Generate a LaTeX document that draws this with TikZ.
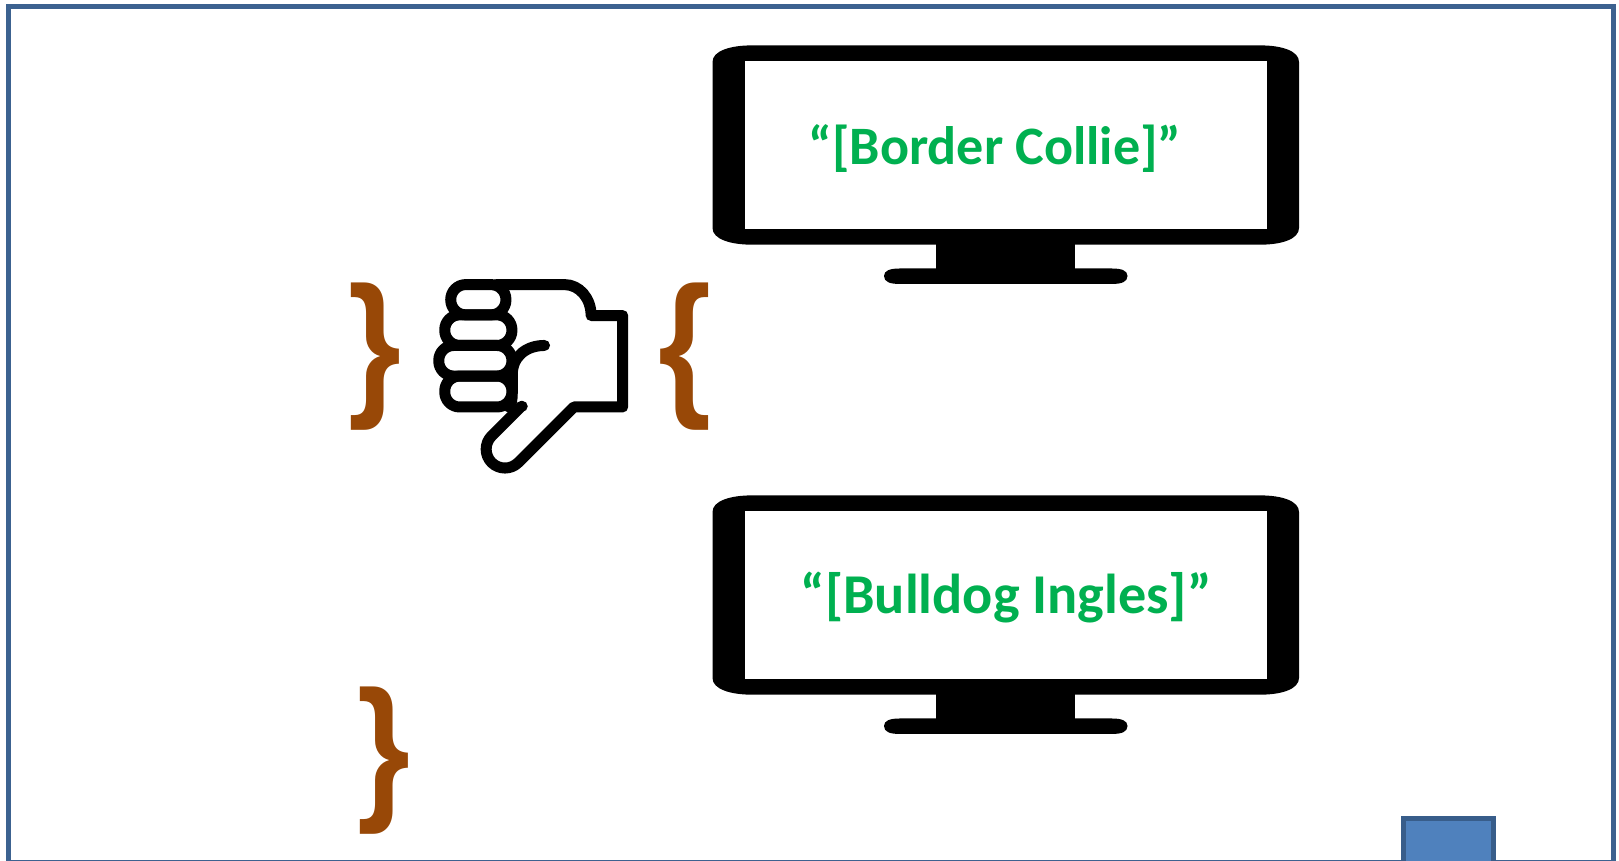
\documentclass[tikz,border=0pt]{standalone}
\usepackage{fontspec}
\setmainfont{Carlito}
\newfontfamily\bracefont{Liberation Sans}
\definecolor{framecol}{HTML}{3C6290}
\definecolor{boxfill}{HTML}{4F81BD}
\definecolor{boxline}{HTML}{385D8A}
\definecolor{bracecol}{HTML}{984807}
\definecolor{namecol}{HTML}{00B050}
\tikzset{
  screenbody/.style={fill=black,draw=none},
  screenglass/.style={fill=white,draw=none},
  thumbline/.style={line width=0.11cm,line cap=round,line join=round},
  bracetext/.style={text=bracecol,font=\fontsize{45}{45}\selectfont\bracefont\bfseries,inner sep=0pt,xscale=0.86},
  nametext/.style={text=namecol,font=\fontsize{15.4}{15.4}\selectfont\bfseries,inner sep=0pt}
}
\begin{document}
\begin{tikzpicture}
\clip (0,0) rectangle (16.19,8.61);%
\fill [white] (0,0) rectangle (16.19,8.61);%

% Drawing outer frame
\draw [framecol,line width=0.05cm] (0.08,-0.015) rectangle (16.13,8.54);%

% Drawing small box at the bottom
\draw [boxline,fill=boxfill,line width=0.05cm] (14.035,-0.50) rectangle (14.93,0.425);%

% Drawing upper screen
\fill [screenbody] (7.125,7.99) .. controls (7.125,8.10) and (7.30,8.156) .. (7.52,8.156) -- (12.60,8.156) .. controls (12.82,8.156) and (12.99,8.10) .. (12.99,7.99) -- (12.99,6.33) .. controls (12.99,6.22) and (12.82,6.163) .. (12.60,6.163) -- (7.52,6.163) .. controls (7.30,6.163) and (7.125,6.22) .. (7.125,6.33) -- cycle;%
\fill [screenglass] (7.445,6.32) rectangle (12.67,8.00);%
\fill [screenbody] (9.355,5.90) rectangle (10.75,6.20);%
\fill [screenbody] (8.84,5.85) .. controls (8.84,5.905) and (8.90,5.925) .. (9.00,5.925) -- (11.115,5.925) .. controls (11.215,5.925) and (11.275,5.905) .. (11.275,5.85) .. controls (11.275,5.79) and (11.215,5.77) .. (11.115,5.77) -- (9.00,5.77) .. controls (8.90,5.77) and (8.84,5.79) .. (8.84,5.85) -- cycle;%
\draw (9.95,7.12) node (upperName) [nametext] {“[Border Collie]”};%

% Drawing lower screen
\fill [screenbody] (7.125,3.49) .. controls (7.125,3.60) and (7.30,3.656) .. (7.52,3.656) -- (12.60,3.656) .. controls (12.82,3.656) and (12.99,3.60) .. (12.99,3.49) -- (12.99,1.83) .. controls (12.99,1.72) and (12.82,1.663) .. (12.60,1.663) -- (7.52,1.663) .. controls (7.30,1.663) and (7.125,1.72) .. (7.125,1.83) -- cycle;%
\fill [screenglass] (7.445,1.82) rectangle (12.67,3.50);%
\fill [screenbody] (9.355,1.40) rectangle (10.75,1.70);%
\fill [screenbody] (8.84,1.35) .. controls (8.84,1.405) and (8.90,1.425) .. (9.00,1.425) -- (11.115,1.425) .. controls (11.215,1.425) and (11.275,1.405) .. (11.275,1.35) .. controls (11.275,1.29) and (11.215,1.27) .. (11.115,1.27) -- (9.00,1.27) .. controls (8.90,1.27) and (8.84,1.29) .. (8.84,1.35) -- cycle;%
\draw (10.06,2.63) node (lowerName) [nametext,font=\fontsize{16}{16}\selectfont\bfseries] {“[Bulldog Ingles]”};%

% Marking braces
\draw (3.75,5.045) node (leftBrace) [bracetext] {\}};%
\draw (6.85,5.045) node (rightBrace) [bracetext] {\{};%
\draw (3.84,1.00) node (lowBrace) [bracetext] {\}};%

% Drawing thumb
\begin{scope}[shift={(3.30,6.01)},x=0.0033333cm,y=-0.0033333cm]
\draw [thumbline,rounded corners=0.15cm] (363,74) rectangle (529,165);%
\draw [thumbline,rounded corners=0.15cm] (345,165) rectangle (547,257);%
\draw [thumbline,rounded corners=0.15cm] (327,257) rectangle (547,349);%
\draw [thumbline,rounded corners=0.15cm] (345,349) rectangle (547,442);%
\draw [thumbline] (500,74) -- (705,74) .. controls (750,74) and (785,115) .. (785,167) -- (880,167) -- (880,442) -- (733,442) -- (566,609) .. controls (544,631) and (508,631) .. (486,609) .. controls (464,587) and (464,551) .. (486,529) -- (575,440) -- (578,440);%
\draw [thumbline] (645,257) .. controls (590,257) and (548,290) .. (548,345) -- (548,400) .. controls (548,420) and (545,435) .. (538,442);%
\end{scope}
\end{tikzpicture}
\end{document}
